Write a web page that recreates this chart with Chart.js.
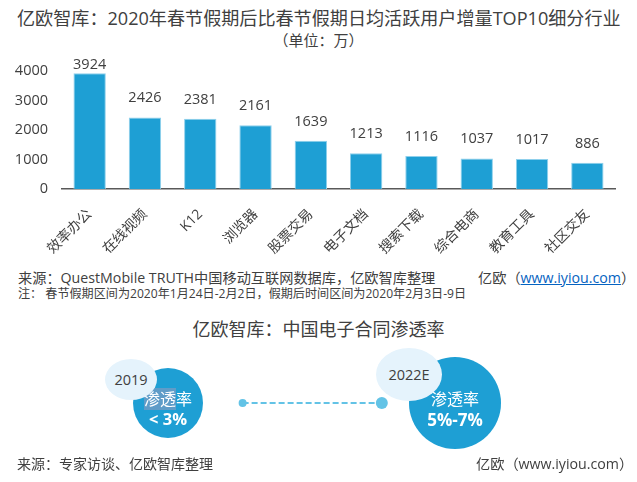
<!DOCTYPE html>
<html>
<head>
<meta charset="utf-8">
<script src="https://cdn.jsdelivr.net/npm/chart.js@4"></script>
<style>
body { margin: 0; background: #fff; width: 637px; height: 482px; overflow: hidden; position: relative;
  font-family: "Open Sans", "Noto Sans CJK SC", sans-serif; color: #404040; }
canvas { position: absolute; left: 0; }
.txt { position: absolute; white-space: nowrap; line-height: 1; }
.badge { position: absolute; border-radius: 50%; background: #e5f3fc; text-align: center; color: #404040; font-size: 14.5px; }
.in { position: absolute; color: #fff; text-align: center; white-space: nowrap; line-height: 1; }
a { color: #0563c1; }
</style>
</head>
<body>
<div class="txt" style="left:17px;top:9px;font-size:18.1px">亿欧智库&#xFF1A;2020年春节假期后比春节假期日均活跃用户增量TOP10细分行业</div>
<div class="txt" style="left:0;width:637px;text-align:center;top:33px;font-size:15px">&#xFF08;单位&#xFF1A;万&#xFF09;</div>
<canvas id="barChart" width="637" height="262" style="top:0"></canvas>
<div class="txt" style="left:18px;top:271px;font-size:14.2px">来源&#xFF1A;QuestMobile TRUTH中国移动互联网数据库&#xFF0C;亿欧智库整理</div>
<div class="txt" style="left:478px;top:271px;font-size:14.2px">亿欧&#xFF08;<a href="#">www.iyiou.com</a>&#xFF09;</div>
<div class="txt" style="left:18px;top:288px;font-size:12.1px">注&#xFF1A; 春节假期区间为2020年1月24日-2月2日&#xFF0C;假期后时间区间为2020年2月3日-9日</div>
<div class="txt" style="left:0;width:637px;text-align:center;top:320px;font-size:18px">亿欧智库&#xFF1A;中国电子合同渗透率</div>
<canvas id="rateChart" width="637" height="146" style="top:330px"></canvas>
<div class="in" style="left:133px;width:70px;top:391px;font-size:16px"><span style="background:#5f9cc8">渗透</span>率</div>
<div class="in" style="left:133px;width:70px;top:411px;font-size:16.5px;font-weight:700">&lt; 3%</div>
<div class="in" style="left:409px;width:92px;top:391px;font-size:16px">渗透率</div>
<div class="in" style="left:409px;width:92px;top:411px;font-size:17px;font-weight:700">5%-7%</div>
<div class="badge" style="left:105px;top:359px;width:52px;height:41px;line-height:41px">2019</div>
<div class="badge" style="left:376px;top:348px;width:66px;height:53px;line-height:53px">2022E</div>
<div class="txt" style="left:17px;top:457px;font-size:14px">来源&#xFF1A;专家访谈&#x3001;亿欧智库整理</div>
<div class="txt" style="left:476px;top:457px;font-size:14.2px">亿欧&#xFF08;www.iyiou.com&#xFF09;</div>

<script>
const categories = ['效率办公', '在线视频', 'K12', '浏览器', '股票交易', '电子文档', '搜索下载', '综合电商', '教育工具', '社区交友'];
const userGrowth = [3924, 2426, 2381, 2161, 1639, 1213, 1116, 1037, 1017, 886];
const yTicks = [0, 1000, 2000, 3000, 4000];

const rateYears = [2019, 2022];
const rateBubbleSizes = [35, 46];
const connectorYears = [2019.78, 2021.235];
const connectorDots = [4, 6];

// value labels sit well above the bars, the tallest one is closer so it stays under the title
const valueLabels = {
    id: 'valueLabels',
    afterDatasetsDraw(chart) {
        const ctx = chart.ctx;
        const meta = chart.getDatasetMeta(0);
        ctx.save();
        ctx.font = '14.5px "Open Sans", "Noto Sans CJK SC"';
        ctx.fillStyle = '#404040';
        ctx.textAlign = 'center';
        ctx.textBaseline = 'bottom';
        meta.data.forEach((bar, i) => {
            const gap = userGrowth[i] === Math.max(...userGrowth) ? 1 : 12;
            ctx.fillText(userGrowth[i], bar.x, bar.y - gap);
        });
        ctx.restore();
    }
};

new Chart(document.getElementById('barChart').getContext('2d'), {
    type: 'bar',
    data: {
        labels: categories,
        datasets: [{
            data: userGrowth,
            backgroundColor: '#1e9fd4',
            borderColor: '#8fd0ec',
            borderWidth: { top: 1, left: 1, right: 1, bottom: 0 },
            borderSkipped: 'bottom',
            barPercentage: 0.585,
            categoryPercentage: 1
        }]
    },
    options: {
        responsive: false,
        animation: false,
        layout: { autoPadding: false, padding: { top: 71, right: 22, left: 0, bottom: 0 } },
        plugins: { legend: { display: false }, tooltip: { enabled: false } },
        scales: {
            x: {
                afterFit: scale => { scale.height = 73; },
                grid: { display: false, drawTicks: false },
                border: { color: '#595959', width: 1.5 },
                ticks: {
                    color: '#404040',
                    font: { size: 14, family: '"Open Sans", "Noto Sans CJK SC"' },
                    minRotation: 45,
                    maxRotation: 45,
                    autoSkip: false,
                    padding: 17
                }
            },
            y: {
                min: 0,
                max: 4000,
                afterFit: scale => { scale.width = 62; },
                afterBuildTicks: scale => { scale.ticks = yTicks.map(value => ({ value })); },
                grid: { display: false, drawTicks: false },
                border: { display: false },
                ticks: {
                    color: '#404040',
                    font: { size: 14.5, family: '"Open Sans", "Noto Sans CJK SC"' },
                    padding: 14,
                    callback: value => String(value)
                }
            }
        }
    },
    plugins: [valueLabels]
});

new Chart(document.getElementById('rateChart').getContext('2d'), {
    data: {
        datasets: [
            {
                type: 'bubble',
                data: rateYears.map((year, i) => ({ x: year, y: 0, r: rateBubbleSizes[i] })),
                backgroundColor: '#1e9fd4',
                borderWidth: 0,
                clip: false
            },
            {
                type: 'line',
                data: connectorYears.map(year => ({ x: year, y: 0 })),
                borderColor: '#63c3e6',
                borderWidth: 2,
                borderDash: [6, 3],
                backgroundColor: '#63c3e6',
                pointBackgroundColor: '#63c3e6',
                pointBorderWidth: 0,
                pointRadius: connectorDots,
                clip: false
            }
        ]
    },
    options: {
        responsive: false,
        animation: false,
        layout: { autoPadding: false, padding: { left: 168, right: 182, top: 0, bottom: 0 } },
        plugins: { legend: { display: false }, tooltip: { enabled: false } },
        scales: {
            x: { type: 'linear', min: 2019, max: 2022, display: false },
            y: { type: 'linear', min: -1, max: 1, display: false }
        }
    }
});
</script>
</body>
</html>
